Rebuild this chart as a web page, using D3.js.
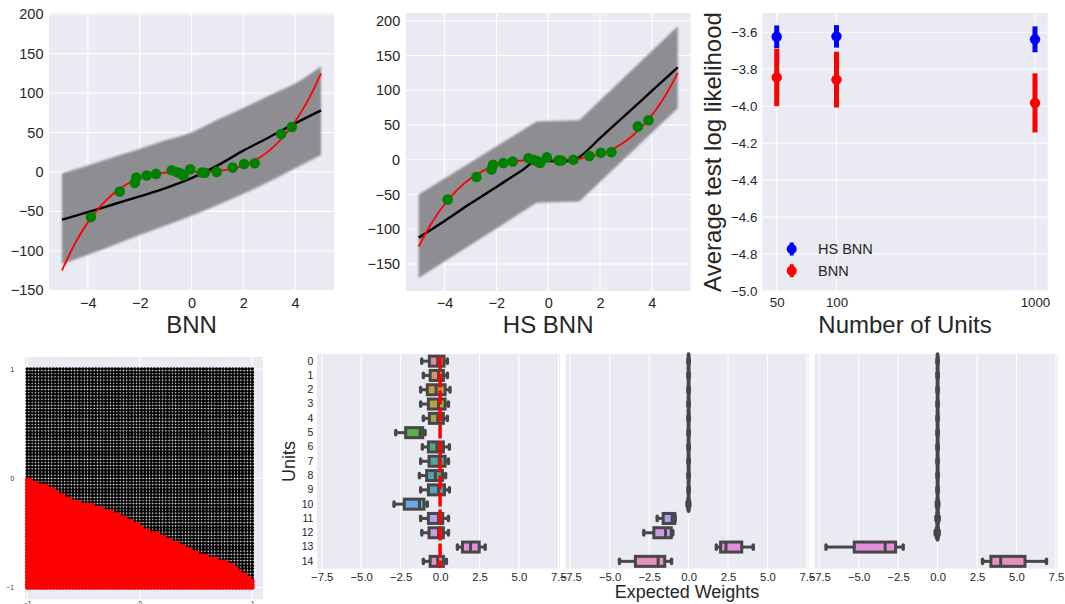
<!DOCTYPE html>
<html>
<head>
<meta charset="utf-8">
<script src="https://cdn.jsdelivr.net/npm/d3@7"></script>
<style>
  body { margin: 0; background: #fff; }
  svg { display: block; font-family: "Liberation Sans", Arial, sans-serif; }
</style>
</head>
<body>
<svg id="fig" width="1065" height="604"></svg>
<script>
// ---------------- data ----------------
// true function (red) sampled along x
const curveX = [-5, -4.5, -4, -3.5, -3, -2.5, -2, -1.5, -1, -0.5, 0, 0.5, 1, 1.5, 2, 2.5, 3, 3.5, 4, 4.5, 5];
const curveY = [-125, -91, -64, -43, -27, -15.6, -8, -3.4, -1, -0.1, 0, 0.1, 1, 3.4, 8, 15.6, 27, 43, 64, 91, 125];

// observed points (green)
const obsX = [-3.88, -2.77, -2.19, -2.13, -1.73, -1.37, -0.76, -0.55, -0.42, -0.31, -0.05, 0.40, 0.51, 0.97, 1.59, 2.03, 2.44, 3.46, 3.87];
const obsY = [-57.3, -24.8, -13.9, -7.2, -4.6, -2.5, 2.1, -0.4, -2.1, -4.6, 3.4, -0.8, -1.1, 0, 5.5, 10.1, 11, 48, 56.9];

// BNN predictive mean and band
const bnnX     = [-5, -4, -3, -2, -1, 0, 1, 2, 3, 4, 5];
const bnnMean  = [-60.6, -51, -41, -31, -20.6, -8, 8, 27, 44, 61.5, 78];
const bnnUpper = [-2, 8, 19, 29, 40, 50, 66, 81, 97, 112, 134];
const bnnLower = [-117, -105, -92.6, -80, -67.8, -55.6, -42, -27.8, -12.2, 4.6, 21.5];

// HS BNN predictive mean and band
const hsMeanX  = [-5, -4, -3, -2, -1, -0.45, 0.3, 1.0, 1.25, 2, 3, 4, 5];
const hsMean   = [-112, -88, -63, -39, -15, -1.5, -2, -1.5, 5, 31, 65, 99, 133];
const hsBandX  = [-5, -0.45, 1.2, 5];
const hsUpper  = [-50, 55, 57, 192];
const hsLower  = [-170, -62, -60, 74];

// test log likelihood vs number of units
const units   = [50, 100, 1000];
const hsLL    = [-3.624, -3.622, -3.638];
const hsErr   = [0.061, 0.061, 0.07];
const bnnLL   = [-3.844, -3.856, -3.982];
const bnnErr  = [0.156, 0.151, 0.16];

// classification scatter: decision boundary
const boundaryX = [-1, -0.8, -0.65, -0.5, -0.35, -0.2, -0.05, 0.1, 0.24, 0.39, 0.54, 0.69, 0.84, 1.0];
const boundaryY = [0, -0.08, -0.17, -0.22, -0.26, -0.32, -0.40, -0.48, -0.54, -0.61, -0.69, -0.73, -0.80, -0.93];

// expected weights per unit: [low whisker, q1, median, q3, high whisker]
const unitLabels = d3.range(15).map(String);
const boxesBNN = [
  [-1.16, -0.68, -0.15, 0.25, 0.46],
  [-1.06, -0.63, -0.10, 0.21, 0.46],
  [-1.23, -0.81, -0.25, 0.32, 0.63],
  [-1.23, -0.74, -0.10, 0.32, 0.53],
  [-1.06, -0.68, -0.15, 0.21, 0.46],
  [-2.81, -2.18, -1.27, -1.10, -0.95],
  [-1.12, -0.74, -0.20, 0.21, 0.59],
  [-1.23, -0.70, -0.05, 0.32, 0.53],
  [-1.31, -0.85, -0.30, 0.15, 0.35],
  [-1.23, -0.74, -0.10, 0.28, 0.59],
  [-2.92, -2.27, -1.31, -1.02, -0.81],
  [-1.23, -0.74, -0.10, 0.17, 0.53],
  [-1.16, -0.70, -0.10, 0.21, 0.53],
  [1.10, 1.42, 1.93, 2.48, 2.86],
  [-1.06, -0.63, -0.15, 0.21, 0.40]
];
const boxesHS1 = [
  [-0.04, -0.015, 0, 0.015, 0.04], [-0.04, -0.015, 0, 0.015, 0.04], [-0.04, -0.015, 0, 0.015, 0.04],
  [-0.04, -0.015, 0, 0.015, 0.04], [-0.04, -0.015, 0, 0.015, 0.04], [-0.04, -0.015, 0, 0.015, 0.04],
  [-0.04, -0.015, 0, 0.015, 0.04], [-0.04, -0.015, 0, 0.015, 0.04], [-0.04, -0.015, 0, 0.015, 0.04],
  [-0.04, -0.015, 0, 0.015, 0.04], [-0.1, -0.05, 0, 0.04, 0.08],
  [-1.99, -1.61, -1.04, -0.87, -0.85],
  [-2.84, -2.20, -1.46, -1.10, -1.00],
  [1.76, 2.03, 2.37, 3.37, 4.10],
  [-4.38, -3.37, -1.93, -1.51, -1.08]
];
const boxesHS2 = [
  [-0.04, -0.015, 0, 0.015, 0.04], [-0.04, -0.015, 0, 0.015, 0.04], [-0.04, -0.015, 0, 0.015, 0.04],
  [-0.04, -0.015, 0, 0.015, 0.04], [-0.04, -0.015, 0, 0.015, 0.04], [-0.04, -0.015, 0, 0.015, 0.04],
  [-0.04, -0.015, 0, 0.015, 0.04], [-0.04, -0.015, 0, 0.015, 0.04], [-0.04, -0.015, 0, 0.015, 0.04],
  [-0.04, -0.015, 0, 0.015, 0.04], [-0.08, -0.04, 0, 0.04, 0.08], [-0.1, -0.05, 0, 0.05, 0.1],
  [-0.15, -0.08, 0, 0.05, 0.10],
  [-7.07, -5.28, -3.32, -2.66, -2.18],
  [2.85, 3.38, 4.00, 5.54, 6.90]
];
const unitColors = ['#e68a9c', '#d9906c', '#c79c4a', '#b3a447', '#9aab4a', '#5bb048', '#4aae85', '#48ab9b',
                    '#4aa9ad', '#4fa6c4', '#6aa9e3', '#a6a6ec', '#cb9ae8', '#e28edb', '#e690bd'];

// tick values
const topXTicks  = [-4, -2, 0, 2, 4];
const topYTicks  = [-150, -100, -50, 0, 50, 100, 150, 200];
const llTicks    = [-5.0, -4.8, -4.6, -4.4, -4.2, -4.0, -3.8, -3.6];
const weightTicks = [-7.5, -5.0, -2.5, 0.0, 2.5, 5.0, 7.5];
const scatterTicks = [-1, 0, 1];

// ---------------- drawing ----------------
const BG = '#eaeaf2', TXT = '#262626', BOXLINE = '#474747';
const svg = d3.select('#fig');

svg.append('defs').append('filter').attr('id', 'soft')
    .attr('x', '-5%').attr('y', '-5%').attr('width', '110%').attr('height', '110%')
  .append('feGaussianBlur').attr('stdDeviation', 1.1);

function background(b) {
  svg.append('rect').attr('x', b.x).attr('y', b.y).attr('width', b.w).attr('height', b.h).attr('fill', BG);
}

function vGrid(g, x, ticks, b) {
  g.selectAll(null).data(ticks).join('line')
      .attr('x1', d => x(d)).attr('x2', d => x(d))
      .attr('y1', b.y).attr('y2', b.y + b.h)
      .attr('stroke', '#fff').attr('stroke-width', 1.1);
}
function hGrid(g, y, ticks, b) {
  g.selectAll(null).data(ticks).join('line')
      .attr('x1', b.x).attr('x2', b.x + b.w)
      .attr('y1', d => y(d)).attr('y2', d => y(d))
      .attr('stroke', '#fff').attr('stroke-width', 1.1);
}

function styleAxis(sel, size) {
  sel.select('.domain').remove();
  sel.selectAll('.tick line').remove();
  sel.attr('font-size', size).attr('font-family', null);
  sel.selectAll('text').attr('fill', TXT);
}

function leftAxis(y, ticks, fmt, xPos, pad, size) {
  svg.append('g').attr('transform', `translate(${xPos},0)`)
      .call(d3.axisLeft(y).tickValues(ticks).tickFormat(fmt).tickSize(0).tickPadding(pad))
      .call(s => styleAxis(s, size));
}
function bottomAxis(x, ticks, fmt, yPos, pad, size) {
  svg.append('g').attr('transform', `translate(0,${yPos})`)
      .call(d3.axisBottom(x).tickValues(ticks).tickFormat(fmt).tickSize(0).tickPadding(pad))
      .call(s => styleAxis(s, size));
}

function label(text, x, y, size, rotate) {
  svg.append('text')
      .attr('transform', `translate(${x},${y})` + (rotate ? ' rotate(-90)' : ''))
      .attr('text-anchor', 'middle').attr('font-size', size).attr('fill', TXT)
      .text(text);
}

// ---- regression panels (BNN / HS BNN) ----
function regressionPanel(b, yDomain, bandX, upper, lower, meanX, mean, bandCurve, title) {
  const x = d3.scaleLinear().domain([-5.5, 5.5]).range([b.x, b.x + b.w]);
  const y = d3.scaleLinear().domain(yDomain).range([b.y + b.h, b.y]);
  background(b);
  const g = svg.append('g');
  vGrid(g, x, topXTicks, b);
  hGrid(g, y, topYTicks, b);

  const area = d3.area().curve(bandCurve)
      .x(i => x(bandX[i])).y0(i => y(lower[i])).y1(i => y(upper[i]));
  g.append('path').datum(d3.range(bandX.length))
      .attr('d', area).attr('fill', '#8e8d92').attr('filter', 'url(#soft)');

  const line = d3.line().x(d => x(d[0])).y(d => y(d[1]));
  g.append('path').datum(d3.zip(meanX, mean))
      .attr('d', line.curve(d3.curveMonotoneX)).attr('fill', 'none')
      .attr('stroke', '#000').attr('stroke-width', 2.4);
  g.append('path').datum(d3.zip(curveX, curveY))
      .attr('d', line.curve(d3.curveCatmullRom)).attr('fill', 'none')
      .attr('stroke', '#ff0000').attr('stroke-width', 1.8);

  g.selectAll('.obs').data(d3.zip(obsX, obsY)).join('circle')
      .attr('class', 'obs')
      .attr('cx', d => x(d[0])).attr('cy', d => y(d[1])).attr('r', 5.3)
      .attr('fill', '#008000');

  leftAxis(y, topYTicks, d3.format('d'), b.x, 5.5, 14.5);
  bottomAxis(x, topXTicks, d3.format('d'), b.y + b.h, 7, 14.5);
  label(title, b.x + b.w / 2, 333, 24);
}

regressionPanel({x: 49, y: 13, w: 285, h: 278}, [-151, 201.5],
  bnnX, bnnUpper, bnnLower, bnnX, bnnMean, d3.curveMonotoneX, 'BNN');
regressionPanel({x: 405.7, y: 13, w: 285, h: 278}, [-188.8, 211.2],
  hsBandX, hsUpper, hsLower, hsMeanX, hsMean, d3.curveLinear, 'HS BNN');

// ---- log likelihood panel ----
{
  const b = {x: 762.3, y: 13, w: 285.4, h: 278};
  const x = d3.scaleLog().domain([42.3, 1159]).range([b.x, b.x + b.w]);
  const y = d3.scaleLinear().domain([-5.0, -3.4956]).range([b.y + b.h, b.y]);
  background(b);
  const g = svg.append('g');
  vGrid(g, x, units, b);
  hGrid(g, y, llTicks, b);

  const series = [
    {mean: hsLL, err: hsErr, color: '#0000ff'},
    {mean: bnnLL, err: bnnErr, color: '#ff0000'}
  ];
  series.forEach(s => {
    const pts = units.map((u, i) => ({u, m: s.mean[i], e: s.err[i]}));
    g.selectAll(null).data(pts).join('line')
        .attr('x1', d => x(d.u)).attr('x2', d => x(d.u))
        .attr('y1', d => y(d.m - d.e)).attr('y2', d => y(d.m + d.e))
        .attr('stroke', s.color).attr('stroke-width', 5);
    g.selectAll(null).data(pts).join('circle')
        .attr('cx', d => x(d.u)).attr('cy', d => y(d.m)).attr('r', 5.2)
        .attr('fill', s.color);
  });

  // legend
  const legend = [{name: 'HS BNN', color: '#0000ff', y: 249}, {name: 'BNN', color: '#ff0000', y: 270.7}];
  const lg = svg.append('g');
  lg.selectAll(null).data(legend).join('line')
      .attr('x1', 791.7).attr('x2', 791.7).attr('y1', d => d.y - 6.5).attr('y2', d => d.y + 6.5)
      .attr('stroke', d => d.color).attr('stroke-width', 4);
  lg.selectAll(null).data(legend).join('circle')
      .attr('cx', 791.7).attr('cy', d => d.y).attr('r', 5).attr('fill', d => d.color);
  lg.selectAll(null).data(legend).join('text')
      .attr('x', 818).attr('y', d => d.y + 5.3).attr('font-size', 14.5).attr('fill', TXT)
      .text(d => d.name);

  leftAxis(y, llTicks, d3.format('.1f'), b.x, 5, 13.3);
  bottomAxis(x, units, d3.format('d'), b.y + b.h, 6.3, 13.3);
  label('Number of Units', b.x + b.w / 2, 333, 24);
  label('Average test log likelihood', 720.5, 152, 24, true);
}

// ---- classification scatter ----
{
  const b = {x: 25, y: 357, w: 238, h: 242.3};
  const x = d3.scaleLinear().domain([-1.02, 1.095]).range([b.x, b.x + b.w]);
  const y = d3.scaleLinear().domain([-1.107, 1.11]).range([b.y + b.h, b.y]);
  background(b);
  const g = svg.append('g');
  vGrid(g, x, scatterTicks, b);
  hGrid(g, y, scatterTicks, b);

  const boundary = d3.scaleLinear().domain(boundaryX).range(boundaryY);
  const gridVals = d3.range(70).map(i => -1 + i * 2 / 69);
  const blackPts = [], redPts = [];
  gridVals.forEach(gx => gridVals.forEach(gy => {
    const edge = boundary(gx);
    if (gy > edge - 0.03) blackPts.push([gx, gy]);
    if (gy <= edge) redPts.push([gx, gy]);
  }));
  g.selectAll('.blk').data(blackPts).join('circle').attr('class', 'blk')
      .attr('cx', d => x(d[0])).attr('cy', d => y(d[1])).attr('r', 1.75).attr('fill', '#000');
  g.selectAll('.red').data(redPts).join('circle').attr('class', 'red')
      .attr('cx', d => x(d[0])).attr('cy', d => y(d[1])).attr('r', 2.4).attr('fill', '#ff0000');

  leftAxis(y, scatterTicks, d3.format('d'), b.x, 11, 6.5);
  bottomAxis(x, scatterTicks, d3.format('d'), b.y + b.h, 2, 6.5);
}

// ---- expected weight box plots ----
const boxTop = 354, boxH = 214.5, boxW = 243;
const yUnit = d3.scaleBand().domain(unitLabels).range([boxTop, boxTop + boxH])
    .paddingInner(0.3).paddingOuter(0.15);

function boxPanel(left, stats, showUnits, zeroLine) {
  const b = {x: left, y: boxTop, w: boxW, h: boxH};
  const x = d3.scaleLinear().domain([-7.8, 7.6]).range([left, left + boxW]);
  background(b);
  const g = svg.append('g');
  vGrid(g, x, weightTicks, b);

  const bh = yUnit.bandwidth(), mid = bh / 2, cap = bh * 0.22;
  const step = yUnit.step();
  const rows = g.selectAll('.unit').data(stats).join('g')
      .attr('class', 'unit')
      .attr('transform', (d, i) => `translate(0,${yUnit(unitLabels[i])})`);

  // units whose weights collapse to zero merge into one thick stroke
  rows.filter(d => d[4] - d[0] < 0.5).append('line')
      .attr('x1', d => x(d[2])).attr('x2', d => x(d[2]))
      .attr('y1', mid - step / 2).attr('y2', mid + step / 2)
      .attr('stroke', BOXLINE).attr('stroke-width', 3.6).attr('stroke-linecap', 'round');

  rows.append('line').attr('x1', d => x(d[0])).attr('x2', d => x(d[1]))
      .attr('y1', mid).attr('y2', mid).attr('stroke', BOXLINE).attr('stroke-width', 3);
  rows.append('line').attr('x1', d => x(d[3])).attr('x2', d => x(d[4]))
      .attr('y1', mid).attr('y2', mid).attr('stroke', BOXLINE).attr('stroke-width', 3);
  [0, 4].forEach(k => {
    rows.append('line').attr('x1', d => x(d[k])).attr('x2', d => x(d[k]))
        .attr('y1', mid - cap).attr('y2', mid + cap)
        .attr('stroke', BOXLINE).attr('stroke-width', 3.4).attr('stroke-linecap', 'round');
  });
  rows.append('rect')
      .attr('x', d => x(d[1])).attr('width', d => x(d[3]) - x(d[1]))
      .attr('y', 0).attr('height', bh)
      .attr('fill', (d, i) => unitColors[i])
      .attr('stroke', BOXLINE).attr('stroke-width', 3);
  rows.append('line').attr('x1', d => x(d[2])).attr('x2', d => x(d[2]))
      .attr('y1', 0).attr('y2', bh).attr('stroke', BOXLINE).attr('stroke-width', 3);

  if (zeroLine) {
    g.append('line').attr('x1', x(0)).attr('x2', x(0))
        .attr('y1', boxTop + 2.5).attr('y2', boxTop + boxH - 0.5)
        .attr('stroke', '#ff0000').attr('stroke-width', 3.5)
        .attr('stroke-dasharray', '14,3');
  }

  if (showUnits) {
    svg.append('g').attr('transform', `translate(${left},0)`)
        .call(d3.axisLeft(yUnit).tickSize(0).tickPadding(3.7))
        .call(s => styleAxis(s, 10.5));
  }
  bottomAxis(x, weightTicks, d3.format('.1f'), boxTop + boxH, 4.2, 11.3);
}

boxPanel(317, boxesBNN, true, true);
boxPanel(565.5, boxesHS1, false, false);
boxPanel(814.5, boxesHS2, false, false);

label('Units', 295, 461.5, 18, true);
label('Expected Weights', 687, 598, 18);
</script>
</body>
</html>
